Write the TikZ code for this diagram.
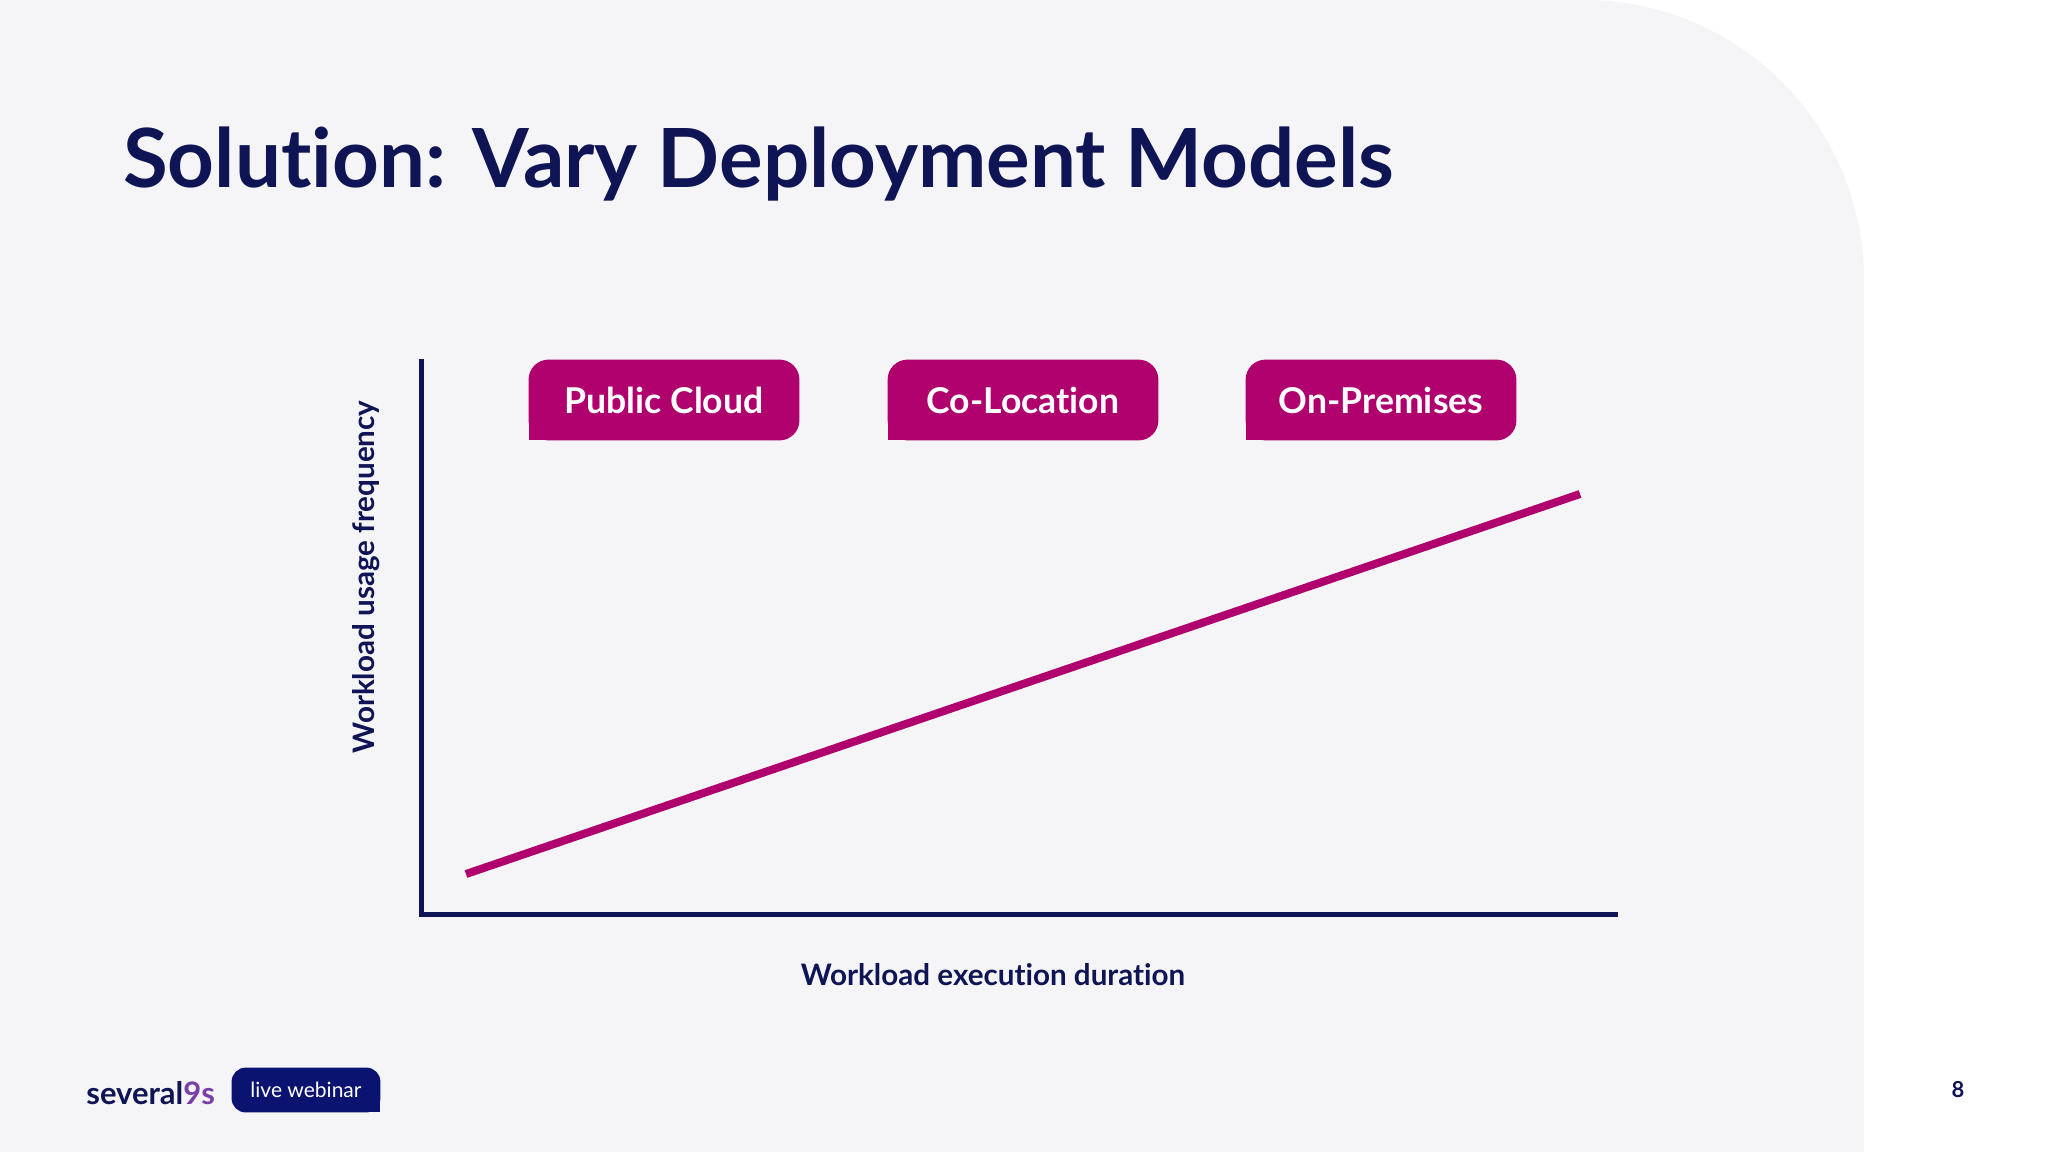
\documentclass[tikz,border=0pt]{standalone}
\usepackage{fontspec}
\setmainfont{Lato}[Ligatures=NoCommon]
\usetikzlibrary{backgrounds}
\definecolor{navy}{HTML}{0E1454}
\definecolor{mag}{HTML}{B0006E}
\definecolor{panel}{HTML}{F5F5F7}
\definecolor{badge}{HTML}{0A1470}
\definecolor{purp}{HTML}{7A3FA8}
\tikzset{
  box/.style={minimum width=135pt,minimum height=40pt,inner sep=0pt,text=white,font=\bfseries\fontsize{17.8}{20}\selectfont},
  axis/.style={draw=navy,line width=2.5pt},
  lbl/.style={text=navy,font=\bfseries\fontsize{14.8}{16}\selectfont}
}
\newcommand{\onecorner}[2]{%
  \fill[#2,rounded corners=10pt] (#1.south west) rectangle (#1.north east);
  \fill[#2] (#1.south west) rectangle ([xshift=12pt,yshift=12pt]#1.south west);}
\begin{document}
\begin{tikzpicture}[x=0.5pt,y=-0.5pt]
\useasboundingbox (0,0) rectangle (2048,1152);
\begin{scope}[on background layer]
\fill[white] (0,0) rectangle (2048,1152);
\fill[panel] (0,0) rectangle (1584,1152);
\fill[panel] (0,280) rectangle (1864,1152);
\fill[panel] (1584,280) circle[radius=140pt];
\end{scope}
\node[anchor=west,text=navy,font=\bfseries\fontsize{40.8}{48}\selectfont] (title) at (116,164) {Solution: Vary Deployment Models};
% axes
\coordinate (top) at (421,359);
\coordinate (orig) at (421,914);
\coordinate (xend) at (1618,914);
\draw[axis] (top) -- (orig) -- (xend);
\coordinate (ls) at (466,874);
\coordinate (le) at (1580,494);
\draw[mag,line width=4pt] (ls) -- (le);
% boxes
\node[box] (pc) at (664,400) {Public Cloud};
\node[box] (co) at (1023,400) {Co-Location};
\node[box] (op) at (1381,400) {On-Premises};
\begin{scope}[on background layer]
\onecorner{pc}{mag}\onecorner{co}{mag}\onecorner{op}{mag}
\end{scope}
\node[lbl,rotate=90] (yl) at (366,577) {Workload usage frequency};
\node[lbl] (xl) at (993,975) {Workload execution duration};
% footer
\node[anchor=west,text=navy,font=\bfseries\fontsize{15.5}{17}\selectfont,inner sep=0pt] (logo) at (86,1093) {several\textcolor{purp}{9s}};
\node[minimum width=74pt,minimum height=22pt,inner sep=0pt,text=white,font=\fontsize{10.5}{12}\selectfont] (lw) at (306,1090) {live webinar};
\begin{scope}[on background layer]
\fill[badge,rounded corners=7pt] (lw.south west) rectangle (lw.north east);
\fill[badge] (lw.south east) rectangle ([xshift=-9pt,yshift=9pt]lw.south east);
\end{scope}
\node[text=navy,font=\bfseries\fontsize{11}{13}\selectfont] (pg) at (1958,1090) {8};
\end{tikzpicture}
\end{document}
